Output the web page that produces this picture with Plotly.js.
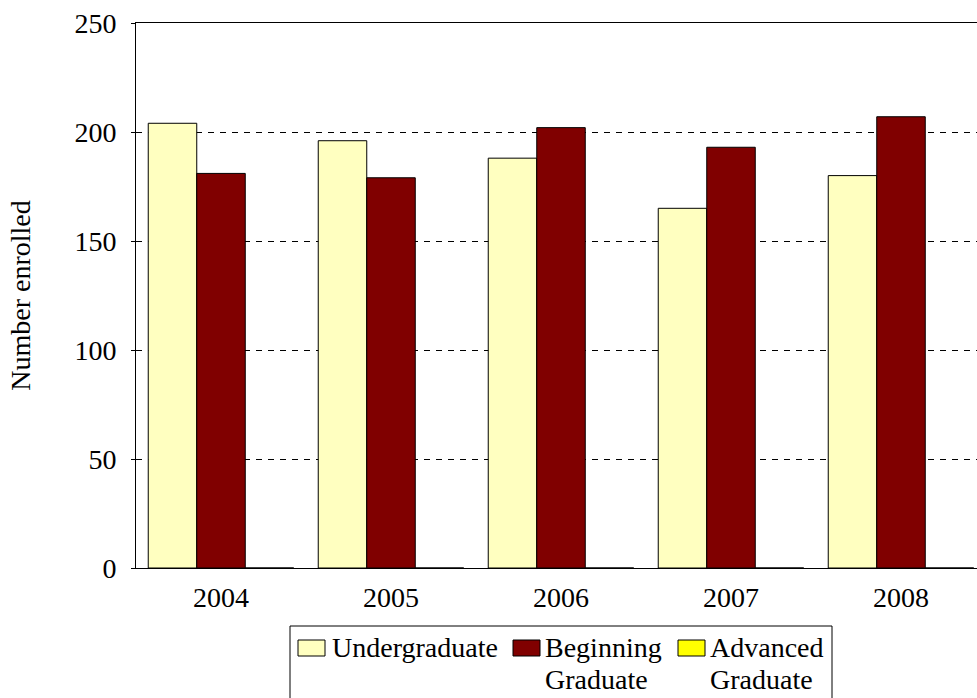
<!DOCTYPE html>
<html>
<head>
<meta charset="utf-8">
<script src="https://cdn.plot.ly/plotly-3.0.1.min.js"></script>
<style>
  html, body { margin: 0; padding: 0; overflow: hidden; background: #fff; }
  #chart { width: 1000px; height: 698px; }
</style>
</head>
<body>
<div id="chart"></div>
<script>
// ---- data ----
const years = ['2004', '2005', '2006', '2007', '2008'];
const undergraduate = [204, 196, 188, 165, 180];
const beginningGraduate = [181, 179, 202, 193, 207];
const advancedGraduate = [0, 0, 0, 0, 0];
const seriesNames = ['Undergraduate', 'Beginning<br>Graduate', 'Advanced<br>Graduate'];
const seriesColors = ['#FFFFC0', '#800000', '#FFFF00'];
const yTicks = [0, 50, 100, 150, 200, 250];

const FONT = "'Liberation Serif', 'Times New Roman', serif";
const W = 1000, H = 698;
const M = { l: 136, r: 14, t: 23, b: 130 };
const PW = W - M.l - M.r, PH = H - M.t - M.b;
const px2x = p => (p - M.l) / PW;
const px2y = p => (H - M.b - p) / PH;

const seriesValues = [undergraduate, beginningGraduate, advancedGraduate];
const traces = seriesValues.map((vals, i) => ({
  type: 'bar',
  x: years,
  y: vals,
  name: seriesNames[i].replace('<br>', ' '),
  marker: { color: seriesColors[i], line: { color: '#000', width: 1 } },
  showlegend: false
}));

// manual legend (box + swatches + labels), positioned in pixels
const legendBox = { x0: 290, x1: 832, y0: 626, y1: 720 };
const swatchX = [298, 513, 678];
const textX = [330, 543, 708];
const shapes = [{
  type: 'rect', xref: 'paper', yref: 'paper',
  x0: px2x(legendBox.x0), x1: px2x(legendBox.x1),
  y0: px2y(legendBox.y0), y1: px2y(legendBox.y1),
  line: { color: '#000', width: 1 }, fillcolor: 'rgba(0,0,0,0)'
}];
const annotations = [];
seriesNames.forEach((nm, i) => {
  shapes.push({
    type: 'rect', xref: 'paper', yref: 'paper',
    x0: px2x(swatchX[i]), x1: px2x(swatchX[i] + 27),
    y0: px2y(640), y1: px2y(656),
    line: { color: '#000', width: 1 }, fillcolor: seriesColors[i]
  });
  nm.split('<br>').forEach((line, j) => {
    annotations.push({
      xref: 'paper', yref: 'paper',
      x: px2x(textX[i]), y: px2y(647 + j * 32),
      xanchor: 'left', yanchor: 'middle',
      text: line, showarrow: false,
      font: { family: FONT, size: 28, color: '#000' }
    });
  });
});

const layout = {
  width: W, height: H,
  margin: M,
  paper_bgcolor: '#fff', plot_bgcolor: '#fff',
  barmode: 'group', bargap: 0.144, bargroupgap: 0,
  font: { family: FONT, size: 28, color: '#000' },
  xaxis: {
    type: 'category',
    showline: true, linecolor: '#000', linewidth: 1, mirror: true,
    ticks: '', showgrid: false, zeroline: false,
    tickfont: { family: FONT, size: 28, color: '#000' },
    ticklabelstandoff: 4
  },
  yaxis: {
    range: [0, 250], tickvals: yTicks, ticktext: yTicks.map(String),
    showline: true, linecolor: '#000', linewidth: 1, mirror: true,
    ticks: 'outside', ticklen: 4, tickcolor: '#000', tickwidth: 1,
    showgrid: true, gridcolor: '#000', gridwidth: 1, griddash: '6px,6px',
    zeroline: false,
    tickfont: { family: FONT, size: 28, color: '#000' },
    ticklabelstandoff: 9,
    title: { text: 'Number enrolled', font: { family: FONT, size: 28, color: '#000' }, standoff: 35 }
  },
  shapes: shapes,
  annotations: annotations
};

Plotly.newPlot('chart', traces, layout, { displayModeBar: false, staticPlot: true });
</script>
</body>
</html>
